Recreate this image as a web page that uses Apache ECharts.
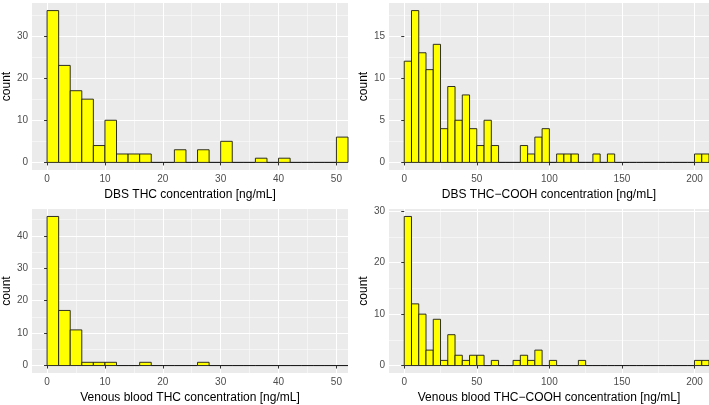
<!DOCTYPE html>
<html><head><meta charset="utf-8">
<script src="https://cdn.jsdelivr.net/npm/echarts@6/dist/echarts.min.js"></script>
<style>html,body{margin:0;padding:0;background:#fff}#c{width:709px;height:405px}</style>
</head><body><div id="c"></div>
<script>
// histogram counts, bins start at 0
var dbsThc = [36,23,17,15,4,10,2,2,2,0,0,3,0,3,0,5,0,0,1,0,1,0,0,0,0,6];          // width 2
var dbsCooh = [12,18,13,11,14,4,9,5,8,4,2,5,2,0,0,0,2,1,3,4,0,1,1,1,0,0,1,0,1,0,0,0,0,0,0,0,0,0,0,0,1,1]; // width 5
var venThc = [46,17,11,1,1,1,0,0,1,0,0,0,0,1,0,0,0,0,0,0,0,0,0,0,0,0];            // width 2
var venCooh = [29,12,10,3,9,1,6,2,1,2,2,0,1,0,0,1,2,1,3,0,1,0,0,0,1,0,0,0,0,0,0,0,0,0,0,0,0,0,0,0,1,1]; // width 5
var titles = ['DBS THC concentration [ng/mL]','DBS THC\u2212COOH concentration [ng/mL]',
              'Venous blood THC concentration [ng/mL]','Venous blood THC\u2212COOH concentration [ng/mL]'];
var thcTicks = [0,10,20,30,40,50], coohTicks = [0,50,100,150,200];

var panels = [
  {d: dbsThc, w: 2, x: [-2.6, 52], xt: thcTicks, y: [-1.8, 37.8], yt: [0,10,20,30], g: {left: 30, top: 3, width: 318, height: 167}},
  {d: dbsCooh, w: 5, x: [-10.5, 210], xt: coohTicks, y: [-0.9, 18.9], yt: [0,5,10,15], g: {left: 389, top: 3, width: 320, height: 167}},
  {d: venThc, w: 2, x: [-2.6, 52], xt: thcTicks, y: [-2.3, 48.3], yt: [0,10,20,30,40], g: {left: 30, top: 209, width: 318, height: 168}},
  {d: venCooh, w: 5, x: [-10.5, 210], xt: coohTicks, y: [-1.45, 30.45], yt: [0,10,20,30], g: {left: 389, top: 209, width: 320, height: 168}}
];

function minors(t) {
  var s = t[1] - t[0], out = [];
  for (var k = 0; k < t.length; k++) out.push(t[k] + s / 2);
  return out;
}

var grid = [], xAxis = [], yAxis = [], series = [];
var font = 'Liberation Sans';
panels.forEach(function (p, i) {
  grid.push(Object.assign({backgroundColor: '#EBEBEB', show: true, borderWidth: 0}, p.g));
  function main(rng, ticks, name, gap) {
    return {type: 'value', gridIndex: i, min: rng[0], max: rng[1],
      name: name, nameLocation: 'middle', nameGap: gap,
      nameTextStyle: {color: '#000', fontSize: 12, fontFamily: font},
      axisLine: {show: false},
      axisTick: {show: true, length: 3, customValues: ticks, lineStyle: {color: '#333'}},
      axisLabel: {customValues: ticks, margin: 4, color: '#4D4D4D', fontSize: 10, fontFamily: font},
      splitLine: {show: true, lineStyle: {color: '#fff', width: 1.1}}};
  }
  function minorAx(rng, ticks) {
    return {type: 'value', gridIndex: i, min: rng[0], max: rng[1],
      axisLine: {show: false}, axisTick: {show: false, customValues: minors(ticks)},
      axisLabel: {show: false, customValues: minors(ticks)},
      splitLine: {show: true, lineStyle: {color: '#fff', width: 0.5}}};
  }
  xAxis.push(main(p.x, p.xt, titles[i], 19), minorAx(p.x, p.xt));
  yAxis.push(main(p.y, p.yt, 'count', 19), minorAx(p.y, p.yt));
  series.push({type: 'custom', xAxisIndex: 2 * i, yAxisIndex: 2 * i, z: 10,
    data: p.d.map(function (c, k) { return [k * p.w, (k + 1) * p.w, c]; }),
    renderItem: function (params, api) {
      var a = api.coord([api.value(0), api.value(2)]);
      var b = api.coord([api.value(1), 0]);
      return {type: 'rect', shape: {x: a[0], y: a[1], width: b[0] - a[0], height: b[1] - a[1]},
        style: {fill: '#FFFF00', stroke: '#1a1a1a', lineWidth: 0.9}};
    },
    clip: true});
});

var chart = echarts.init(document.getElementById('c'));
chart.setOption({animation: false, grid: grid, xAxis: xAxis, yAxis: yAxis, series: series});
</script></body></html>
